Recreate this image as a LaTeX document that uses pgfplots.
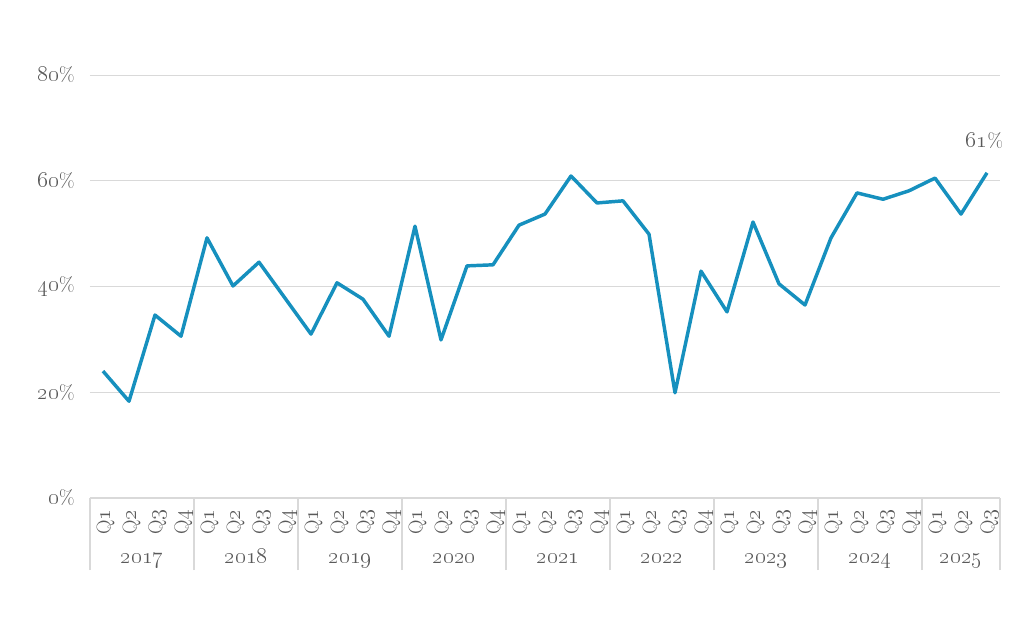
\documentclass[border=0pt]{standalone}
\usepackage{pgfplots}
\pgfplotsset{compat=1.18}
\definecolor{lineblue}{RGB}{22,144,190}
\definecolor{txt}{RGB}{89,89,89}
\definecolor{gridc}{RGB}{217,217,217}
\newcommand\os[1]{{\fontsize{17.5}{18}\selectfont\oldstylenums{#1}}}
\newcommand\lbl{\fontsize{15}{17}\selectfont}
\begin{document}
\begin{tikzpicture}
\path[use as bounding box] (-67.5pt,-105.75pt) rectangle (700.5pt,373.5pt);
\begin{axis}[
  at={(0,0)}, anchor=south west,
  scale only axis, width=682.5pt, height=317.25pt,
  xmin=0.5, xmax=35.5, ymin=0, ymax=80,
  axis line style={draw=none},
  axis x line*=bottom,
  ytick={0,20,40,60,80},
  yticklabels={\os{0}\%,\os{20}\%,\os{40}\%,\os{60}\%,\os{80}\%},
  ymajorgrids, grid style={gridc, line width=0.6pt},
  major tick length=0pt,
  yticklabel style={font=\lbl, text=txt, xshift=-8pt},
  xtick={1,...,35},
  xticklabels={Q\os{1},Q\os{2},Q\os{3},Q\os{4},Q\os{1},Q\os{2},Q\os{3},Q\os{4},Q\os{1},Q\os{2},Q\os{3},Q\os{4},Q\os{1},Q\os{2},Q\os{3},Q\os{4},Q\os{1},Q\os{2},Q\os{3},Q\os{4},Q\os{1},Q\os{2},Q\os{3},Q\os{4},Q\os{1},Q\os{2},Q\os{3},Q\os{4},Q\os{1},Q\os{2},Q\os{3},Q\os{4},Q\os{1},Q\os{2},Q\os{3}},
  xticklabel style={font=\lbl, text=txt, rotate=90, anchor=east, xshift=-5pt, yshift=-2pt},
  extra x ticks={0.5,4.5,8.5,12.5,16.5,20.5,24.5,28.5,32.5,35.5},
  extra x tick labels={},
  extra x tick style={major tick length=54pt, tick align=outside, tick style={gridc, line width=0.8pt}, grid=none},
  clip=false,
]
\draw[gridc, line width=0.8pt] (axis cs:0.5,0) -- (axis cs:35.5,0);
\addplot[lineblue, line width=2.6pt, line join=round] coordinates {
(1,24.0)(2,18.3)(3,34.6)(4,30.6)
(5,49.2)(6,40.1)(7,44.6)(8,37.8)
(9,31.0)(10,40.7)(11,37.6)(12,30.6)
(13,51.4)(14,29.9)(15,43.9)(16,44.1)
(17,51.6)(18,53.7)(19,60.9)(20,55.8)
(21,56.2)(22,49.9)(23,19.9)(24,42.9)
(25,35.2)(26,52.2)(27,40.5)(28,36.5)
(29,49.2)(30,57.7)(31,56.5)(32,58.1)
(33,60.5)(34,53.7)(35,61.5)
};
\node[text=txt, font=\lbl, anchor=base] at (axis cs:34.9,61.5) [yshift=19pt] {\os{61}\%};
\node[text=txt, font=\lbl, anchor=base] at (axis cs:2.5,0) [yshift=-49pt] {\os{2017}};
\node[text=txt, font=\lbl, anchor=base] at (axis cs:6.5,0) [yshift=-49pt] {\os{2018}};
\node[text=txt, font=\lbl, anchor=base] at (axis cs:10.5,0) [yshift=-49pt] {\os{2019}};
\node[text=txt, font=\lbl, anchor=base] at (axis cs:14.5,0) [yshift=-49pt] {\os{2020}};
\node[text=txt, font=\lbl, anchor=base] at (axis cs:18.5,0) [yshift=-49pt] {\os{2021}};
\node[text=txt, font=\lbl, anchor=base] at (axis cs:22.5,0) [yshift=-49pt] {\os{2022}};
\node[text=txt, font=\lbl, anchor=base] at (axis cs:26.5,0) [yshift=-49pt] {\os{2023}};
\node[text=txt, font=\lbl, anchor=base] at (axis cs:30.5,0) [yshift=-49pt] {\os{2024}};
\node[text=txt, font=\lbl, anchor=base] at (axis cs:34,0) [yshift=-49pt] {\os{2025}};
\end{axis}
\end{tikzpicture}
\end{document}
